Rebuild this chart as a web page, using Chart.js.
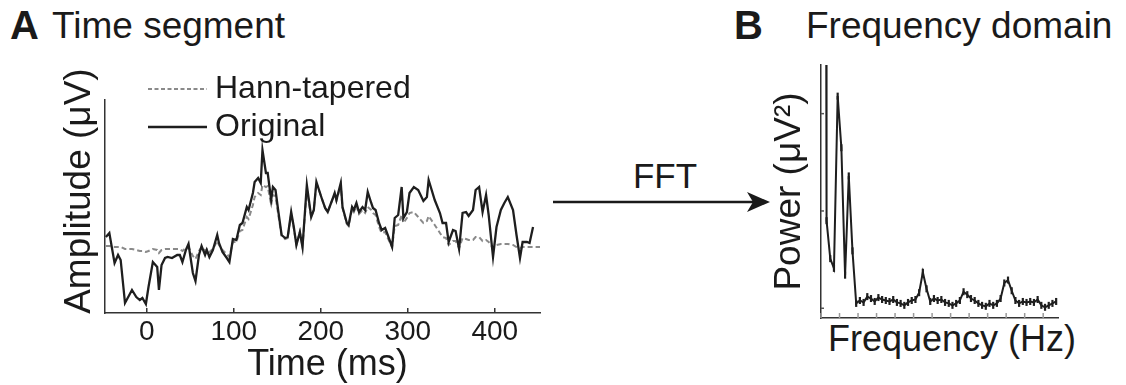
<!DOCTYPE html>
<html lang="en">
<head>
  <meta charset="UTF-8">
  <title>Time segment and frequency domain</title>
  <script src="https://cdn.jsdelivr.net/npm/chart.js@4.4.1/dist/chart.umd.min.js"></script>
  <style>
    html, body { margin: 0; padding: 0; background: #fff; }
    body {
      width: 1126px; height: 385px; position: relative; overflow: hidden;
      font-family: "Liberation Sans", Arial, sans-serif; color: #1a1a1a;
    }
    .lbl { position: absolute; line-height: 1; white-space: nowrap; }
    .panel { font-weight: bold; }
    canvas { position: absolute; top: 0; }
  </style>
</head>
<body>
  <div class="lbl panel" style="left:10px; top:5px; font-size:40px;">A</div>
  <div class="lbl" style="left:52px; top:7px; font-size:37px;">Time segment</div>
  <div class="lbl panel" style="left:734px; top:5px; font-size:40px;">B</div>
  <div class="lbl" style="left:806px; top:7px; font-size:37px;">Frequency domain</div>

  <div class="lbl" style="left:600px; width:130px; text-align:center; top:158px; font-size:35px;">FFT</div>
  <svg style="position:absolute; left:550px; top:190px;" width="224" height="24">
    <line x1="3" y1="12" x2="205" y2="12" stroke="#1a1a1a" stroke-width="2.5"/>
    <polygon points="220,12 197,2 203,12 197,22" fill="#1a1a1a"/>
  </svg>

  <!-- x-axis caption of panel B is wider than its plot, so it sits outside the canvas box -->
  <div class="lbl" style="left:828px; top:321px; font-size:36px;">Frequency (Hz)</div>

  <canvas id="timeChart" width="560" height="385" style="left:0;"></canvas>
  <canvas id="freqChart" width="366" height="385" style="left:760px;"></canvas>

  <script>
    // ---- Panel A: time segment ----
    const timeMs = [-47, -43, -37, -33, -30, -25, -17, -12, -8, -5, -1, 2, 7, 12, 14, 17, 21, 24, 29, 35,
      38, 41, 45, 48, 53, 56, 60, 63, 67, 69, 72, 76, 81, 83, 87, 92, 95, 99, 103, 107,
      110, 115, 117, 122, 124, 128, 131, 133, 137, 139, 143, 145, 148, 151, 155, 159, 162, 166, 169, 172,
      176, 179, 184, 189, 192, 195, 201, 205, 208, 214, 216, 218, 223, 225, 230, 232, 236, 238, 241, 244,
      248, 251, 254, 258, 260, 263, 267, 270, 274, 277, 282, 285, 289, 293, 295, 299, 302, 307, 312, 318,
      322, 324, 331, 337, 340, 344, 347, 352, 355, 359, 363, 367, 370, 375, 378, 382, 386, 390, 393, 398,
      402, 407, 411, 415, 421, 425, 429, 432, 437, 440, 444, 452];

    const originalUv = [0.8, 1.2, -1.8, -1.0, -1.5, -5.8, -4.5, -5.2, -5.5, -5.3, -5.9, -4.2, -1.7, -2.2, -4.5, -2.0, -1.3, -1.2, -1.3, -1.0,
      -1.0, -1.7, -0.5, 0.1, -2.8, -3.6, -1.0, -0.1, -1.0, -0.5, -1.2, -0.5, 1.0, 0.2, -0.7, -1.3, -1.7, 0.6, 0.5, 2.0,
      2.2, 3.8, 3.5, 5.2, 6.3, 6.7, 6.2, 9.5, 7.2, 7.2, 4.5, 5.8, 5.5, 3.5, 1.0, 0.7, 0.8, 3.3, 1.8, 0.0,
      1.3, -0.2, 6.0, 2.8, 3.5, 6.3, 4.7, 3.7, 3.3, 4.7, 5.2, 4.5, 6.2, 3.8, 2.2, 2.0, 3.8, 3.5, 4.2, 3.3,
      3.8, 3.5, 5.3, 4.2, 3.7, 3.5, 2.2, 1.5, 1.7, 1.0, -0.2, 2.7, 3.0, 5.8, 2.7, 3.3, 5.2, 5.8, 5.5, 4.4,
      4.8, 6.5, 4.5, 3.2, 2.2, 2.2, 0.3, 1.5, 1.4, -0.4, 3.2, 3.3, 2.9, 3.5, 5.5, 5.8, 3.3, 5.0, 3.0, -1.2,
      1.8, 3.5, 4.2, 4.8, 3.5, 1.0, -1.3, 0.3, 0.3, 0.2, 1.8, null];

    const hannUv = [-0.1, -0.1, -0.2, -0.2, -0.2, -0.4, -0.4, -0.5, -0.6, -0.6, -0.7, -0.6, -0.4, -0.5, -0.8, -0.5, -0.4, -0.4, -0.4, -0.4,
      -0.4, -0.6, -0.3, -0.2, -1.1, -1.4, -0.6, -0.2, -0.6, -0.4, -0.7, -0.4, 0.4, 0.0, -0.5, -0.9, -1.2, 0.3, 0.3, 1.4,
      1.5, 2.8, 2.6, 4.0, 4.8, 5.2, 5.0, 6.0, 5.8, 5.9, 4.0, 5.0, 4.9, 3.1, 0.9, 0.6, 0.7, 3.1, 1.7, 0.0,
      1.3, -0.2, 5.5, 2.8, 3.5, 6.2, 4.7, 3.7, 3.3, 4.7, 5.1, 4.4, 6.0, 3.7, 2.1, 1.9, 3.6, 3.3, 3.9, 3.1,
      3.5, 3.2, 3.8, 3.5, 3.2, 3.0, 1.8, 1.2, 1.3, 0.7, -0.2, 1.9, 2.0, 3.0, 2.2, 2.7, 3.2, 3.3, 2.8, 2.2,
      2.4, 2.9, 2.0, 1.2, 0.8, 0.7, 0.0, 0.4, 0.4, -0.3, 0.7, 0.6, 0.5, 0.5, 0.8, 0.8, 0.4, 0.5, 0.3, -0.3,
      0.0, 0.1, 0.1, 0.1, 0.0, -0.2, -0.3, -0.2, -0.2, -0.2, -0.2, -0.2];

    const timeTicks = [0, 100, 200, 300, 400];

    // ---- Panel B: frequency domain ----
    const freqHz = [1.4, 1.5, 2.5, 3.5, 4.5, 5.5, 6.5, 7.5, 8.5, 9.5, 10.5, 11.5, 12.5, 13.5, 14.5, 15.5,
      16.5, 17.5, 18.5, 19.5, 20.5, 21.5, 22.5, 23.5, 24.5, 25.5, 26.5, 27.5, 28.5, 29.5, 30.5, 31.5,
      32.5, 33.5, 34.5, 35.5, 36.5, 37.5, 38.5, 39.5, 40.5, 41.5, 42.5, 43.5, 44.5, 45.5, 46.5, 47.5,
      48.5, 49.5, 50.5, 51.5, 52.5, 53.5, 54.5, 55.5, 56.5, 57.5, 58.5, 59.5, 60.5, 61.5, 62.5, 63.5];

    const powerUv2 = [3.0, 0.90, 0.51, 0.41, 2.18, 1.65, 0.34, 1.36, 0.59, 0.05, 0.08, 0.06, 0.12, 0.10, 0.07, 0.11,
      0.09, 0.08, 0.07, 0.09, 0.06, 0.05, 0.03, 0.06, 0.08, 0.09, 0.16, 0.37, 0.20, 0.07, 0.10, 0.08,
      0.09, 0.06, 0.05, 0.03, 0.05, 0.08, 0.17, 0.14, 0.10, 0.08, 0.05, 0.03, 0.02, 0.05, 0.03, 0.05,
      0.10, 0.26, 0.29, 0.18, 0.08, 0.05, 0.07, 0.06, 0.07, 0.06, 0.09, 0.03, 0.01, 0.03, 0.05, 0.07];

    const freqTicks = [0, 5, 10, 15, 20, 25, 30, 35, 40, 45, 50, 55, 60];
    const powerTicks = [0, 1, 2];

    const FONT = '"Liberation Sans", Arial, sans-serif';
    const INK = '#1a1a1a';
    Chart.defaults.font.family = FONT;
    Chart.defaults.color = INK;

    // small tick marks pointing into the plot
    const inwardTicks = {
      id: 'inwardTicks',
      afterDraw(chart, args, opts) {
        const ctx = chart.ctx;
        const area = chart.chartArea;
        ctx.save();
        (opts.axes || []).forEach(ax => {
          const scale = chart.scales[ax.id];
          ctx.strokeStyle = ax.color;
          ctx.lineWidth = ax.width;
          scale.ticks.forEach(t => {
            const p = scale.getPixelForValue(t.value);
            ctx.beginPath();
            if (scale.isHorizontal()) {
              ctx.moveTo(p, area.bottom);
              ctx.lineTo(p, area.bottom - ax.len);
            } else {
              ctx.moveTo(area.left, p);
              ctx.lineTo(area.left + ax.len, p);
            }
            ctx.stroke();
          });
        });
        ctx.restore();
      }
    };

    // legend drawn inside the top-left of panel A
    const cornerLegend = {
      id: 'cornerLegend',
      afterDraw(chart, args, opts) {
        if (!opts.items) return;
        const ctx = chart.ctx;
        const area = chart.chartArea;
        ctx.save();
        ctx.font = opts.font;
        ctx.fillStyle = INK;
        ctx.textBaseline = 'middle';
        opts.items.forEach(item => {
          const ds = chart.data.datasets[item.index];
          const y = area.top + item.dy;
          ctx.strokeStyle = ds.borderColor;
          ctx.lineWidth = ds.borderWidth;
          ctx.setLineDash(item.dash || []);
          ctx.beginPath();
          ctx.moveTo(area.left + 43, y);
          ctx.lineTo(area.left + 102, y);
          ctx.stroke();
          ctx.setLineDash([]);
          ctx.fillText(ds.label, area.left + 110, y);
        });
        ctx.restore();
      }
    };

    function points(xs, ys) {
      return xs.map((x, i) => ({ x: x, y: ys[i] }));
    }

    new Chart(document.getElementById('timeChart'), {
      type: 'line',
      data: {
        datasets: [
          {
            label: 'Original',
            data: points(timeMs, originalUv),
            borderColor: '#1e1e1e',
            borderWidth: 2.3,
            pointRadius: 0,
            tension: 0
          },
          {
            label: 'Hann-tapered',
            data: points(timeMs, hannUv),
            borderColor: '#8a8a8a',
            borderWidth: 2,
            borderDash: [5, 3],
            pointRadius: 0,
            tension: 0
          }
        ]
      },
      options: {
        responsive: false,
        animation: false,
        events: [],
        layout: { padding: { left: 0, right: 20, top: 100, bottom: 0 } },
        scales: {
          x: {
            type: 'linear',
            min: -48,
            max: 452,
            afterBuildTicks: s => { s.ticks = timeTicks.map(v => ({ value: v })); },
            afterFit: s => { s.height = 72; },
            ticks: { font: { size: 28 }, color: INK, padding: 2, maxRotation: 0, autoSkip: false },
            grid: { display: false, drawTicks: false },
            border: { color: '#333', width: 1.5 },
            title: {
              display: true,
              text: ' Time (ms)',
              color: INK,
              font: { size: 36, lineHeight: 1.1 },
              padding: { top: 0, bottom: 0 }
            }
          },
          y: {
            min: -6.8,
            max: 14.5,
            afterFit: s => { s.width = 105; },
            ticks: { display: false },
            grid: { display: false, drawTicks: false },
            border: { color: '#333', width: 1.5 },
            title: {
              display: true,
              text: '   Amplitude (μV)',
              color: INK,
              font: { size: 37, lineHeight: 1.2 },
              padding: { top: 58, bottom: 0 }
            }
          }
        },
        plugins: {
          legend: { display: false },
          tooltip: { enabled: false },
          inwardTicks: { axes: [{ id: 'x', len: 5, color: '#333', width: 1.5 }] },
          cornerLegend: {
            font: '32px ' + FONT,
            items: [
              { index: 1, dy: -11, dash: [4, 2.5] },
              { index: 0, dy: 27 }
            ]
          }
        }
      },
      plugins: [inwardTicks, cornerLegend]
    });

    new Chart(document.getElementById('freqChart'), {
      type: 'line',
      data: {
        datasets: [{
          label: 'Power',
          data: points(freqHz, powerUv2),
          borderColor: '#1e1e1e',
          borderWidth: 2,
          pointStyle: 'line',
          rotation: 90,
          pointRadius: 3.5,
          pointBorderWidth: 2.2,
          pointBorderColor: '#1e1e1e',
          tension: 0,
          clip: 0
        }]
      },
      options: {
        responsive: false,
        animation: false,
        events: [],
        layout: { padding: { left: 0, right: 68, top: 65, bottom: 0 } },
        scales: {
          x: {
            type: 'linear',
            min: 0,
            max: 64,
            afterBuildTicks: s => { s.ticks = freqTicks.map(v => ({ value: v })); },
            afterFit: s => { s.height = 67; },
            ticks: { display: false },
            grid: { display: false, drawTicks: false },
            border: { color: '#333', width: 1.5 }
          },
          y: {
            min: -0.1,
            max: 2.5,
            afterBuildTicks: s => { s.ticks = powerTicks.map(v => ({ value: v })); },
            afterFit: s => { s.width = 61; },
            ticks: { display: false },
            grid: { display: false, drawTicks: false },
            border: { color: '#333', width: 1.5 },
            title: {
              display: true,
              text: 'Power (μV²)',
              color: INK,
              font: { size: 37, lineHeight: 1.2 },
              padding: { top: 8, bottom: 0 }
            }
          }
        },
        plugins: {
          legend: { display: false },
          tooltip: { enabled: false },
          inwardTicks: {
            axes: [
              { id: 'x', len: 5, color: '#9a9a9a', width: 1.5 },
              { id: 'y', len: 3, color: '#555', width: 1.5 }
            ]
          }
        }
      },
      plugins: [inwardTicks]
    });
  </script>
</body>
</html>
